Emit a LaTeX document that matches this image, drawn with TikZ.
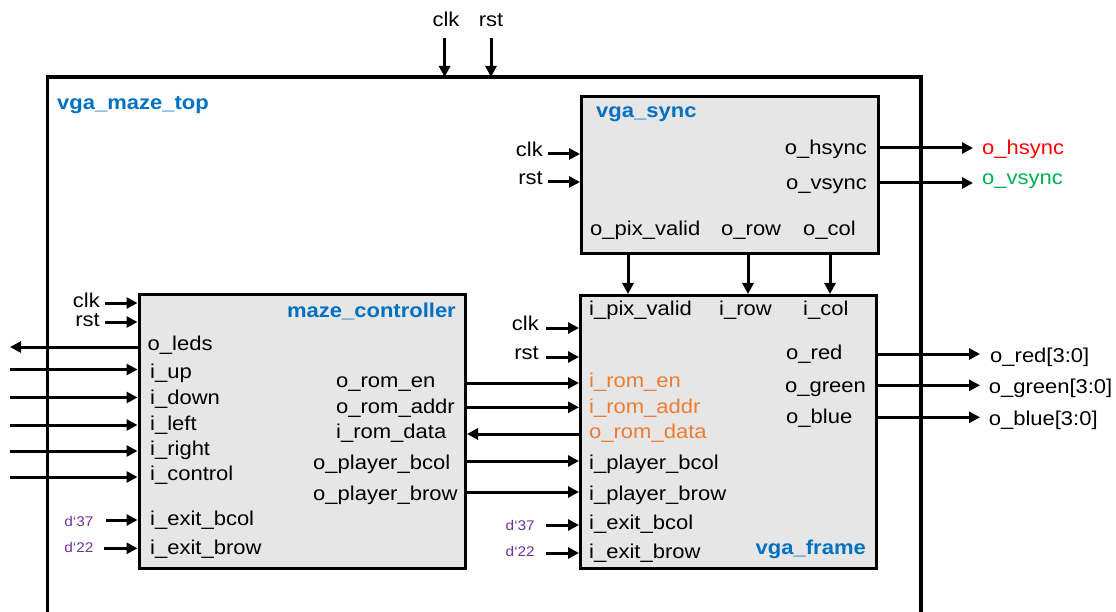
\documentclass[tikz,border=0pt]{standalone}
\usepackage{fontspec}
\setmainfont{Liberation Sans}[FakeStretch=1.1]
\usetikzlibrary{arrows.meta}
\definecolor{tblue}{HTML}{0070C0}
\definecolor{torange}{HTML}{ED7D31}
\definecolor{tred}{HTML}{FF0000}
\definecolor{tgreen}{HTML}{00B050}
\definecolor{tpurple}{HTML}{7030A0}
\definecolor{boxgray}{HTML}{E6E6E6}
\begin{document}
\begin{tikzpicture}[x=1pt,y=-1pt,
  lbl/.style={font=\fontsize{20}{24}\selectfont, inner sep=0pt, text height=14pt, text depth=0pt},
  ttl/.style={lbl, font=\fontsize{20}{24}\selectfont\bfseries, text=tblue},
  cst/.style={font=\fontsize{14}{16}\selectfont, text=tpurple, inner sep=0pt, text height=10pt, text depth=0pt},
  blk/.style={draw, line width=3pt, fill=boxgray, anchor=north west, inner sep=0pt},
  arr/.style={line width=3pt, -{Triangle[length=11pt,width=11pt]}},
  frame/.style={line width=3.2pt}]
\path[use as bounding box] (0,0) rectangle (1116,612);
\clip (0,0) rectangle (1116,612);

% outer module
\draw[frame] (47.5,640) -- (47.5,77) coordinate (tl) -- (921,77) coordinate (tr) -- (921,640);
\node[ttl, anchor=west] (topttl) at (57,103) {vga\_maze\_top};
\node[lbl] (tclk) at (446,20) {clk};
\node[lbl] (trst) at (491,20) {rst};
\coordinate (tclks) at (444.6,38);
\coordinate (trsts) at (491,38);
\draw[arr] (tclks) -- (tclks |- tl);
\draw[arr] (trsts) -- (trsts |- tl);

% blocks
\node[blk, minimum width=297pt, minimum height=157pt] (vs) at (580,95) {};
\node[blk, minimum width=296pt, minimum height=273pt] (vf) at (579,294) {};
\node[blk, minimum width=326.5pt, minimum height=274pt] (mc) at (137.5,293) {};

% ---------- vga_sync ----------
\node[ttl, anchor=west] (vsttl) at (596,111) {vga\_sync};
\node[lbl, anchor=east] (vsclk) at (543,150) {clk};
\node[lbl, anchor=east] (vsrst) at (543,178) {rst};
\coordinate (vsclks) at (548,154);
\coordinate (vsrsts) at (548,182);
\draw[arr] (vsclks) -- (vs.west |- vsclks);
\draw[arr] (vsrsts) -- (vs.west |- vsrsts);
\node[lbl, anchor=east] (ohs) at (867,148) {o\_hsync};
\node[lbl, anchor=east] (ovs) at (867,183) {o\_vsync};
\coordinate (ohse) at (973,148);
\coordinate (ovse) at (973,183);
\draw[arr] (vs.east |- ohse) -- (ohse);
\draw[arr] (vs.east |- ovse) -- (ovse);
\node[lbl, anchor=west, text=tred] (ohsout) at (982,148) {o\_hsync};
\node[lbl, anchor=west, text=tgreen] (ovsout) at (982,178) {o\_vsync};
\node[lbl, anchor=west] (opv) at (590,229) {o\_pix\_valid};
\node[lbl, anchor=west] (orow) at (721,229) {o\_row};
\node[lbl, anchor=west] (ocol) at (803,229) {o\_col};
\coordinate (pvx) at (628,0);
\coordinate (rowx) at (748,0);
\coordinate (colx) at (830,0);
\draw[arr] (pvx |- vs.south) -- (pvx |- vf.north);
\draw[arr] (rowx |- vs.south) -- (rowx |- vf.north);
\draw[arr] (colx |- vs.south) -- (colx |- vf.north);

% ---------- vga_frame ----------
\node[lbl, anchor=west] (ipv) at (589,309) {i\_pix\_valid};
\node[lbl, anchor=west] (irow) at (719,309) {i\_row};
\node[lbl, anchor=west] (icol) at (803,309) {i\_col};
\node[lbl, anchor=west] (ored) at (786,352) {o\_red};
\node[lbl, anchor=west] (ogreen) at (785,385) {o\_green};
\node[lbl, anchor=west] (oblue) at (786,416) {o\_blue};
\coordinate (orede) at (980,354);
\coordinate (ogreene) at (980,385.3);
\coordinate (obluee) at (980,417.3);
\draw[arr] (vf.east |- orede) -- (orede);
\draw[arr] (vf.east |- ogreene) -- (ogreene);
\draw[arr] (vf.east |- obluee) -- (obluee);
\node[lbl, anchor=west] (oredout) at (990,355) {o\_red[3:0]};
\node[lbl, anchor=west] (ogreenout) at (988.6,386) {o\_green[3:0]};
\node[lbl, anchor=west] (oblueout) at (988.6,418) {o\_blue[3:0]};
\node[lbl, anchor=west, text=torange] (iromen) at (589,380) {i\_rom\_en};
\node[lbl, anchor=west, text=torange] (iromaddr) at (589,406) {i\_rom\_addr};
\node[lbl, anchor=west, text=torange] (oromdata) at (589,431) {o\_rom\_data};
\node[lbl, anchor=west] (ipbcol) at (589,462) {i\_player\_bcol};
\node[lbl, anchor=west] (ipbrow) at (589,493) {i\_player\_brow};
\node[lbl, anchor=west] (iebcol) at (589,522) {i\_exit\_bcol};
\node[lbl, anchor=west] (iebrow) at (589,551) {i\_exit\_brow};
\node[ttl, anchor=east] (vfttl) at (866,547) {vga\_frame};
\node[lbl, anchor=east] (vfclk) at (539,323) {clk};
\node[lbl, anchor=east] (vfrst) at (539,352) {rst};
\coordinate (vfclks) at (546,328);
\coordinate (vfrsts) at (546,357);
\draw[arr] (vfclks) -- (vf.west |- vfclks);
\draw[arr] (vfrsts) -- (vf.west |- vfrsts);
\node[cst, anchor=east] (vf37) at (535,525) {d`37};
\node[cst, anchor=east] (vf22) at (535,551) {d`22};
\coordinate (vf37s) at (546,525);
\coordinate (vf22s) at (546,553);
\draw[arr] (vf37s) -- (vf.west |- vf37s);
\draw[arr] (vf22s) -- (vf.west |- vf22s);

% ---------- maze_controller ----------
\node[ttl, anchor=east] (mcttl) at (456,310) {maze\_controller};
\node[lbl, anchor=east] (mcclk) at (100,300) {clk};
\node[lbl, anchor=east] (mcrst) at (100,319) {rst};
\coordinate (mcclks) at (105,303);
\coordinate (mcrsts) at (105,322);
\draw[arr] (mcclks) -- (mc.west |- mcclks);
\draw[arr] (mcrsts) -- (mc.west |- mcrsts);
\node[lbl, anchor=west] (oleds) at (147.5,343) {o\_leds};
\node[lbl, anchor=west] (iup) at (150,371) {i\_up};
\node[lbl, anchor=west] (idown) at (150,397) {i\_down};
\node[lbl, anchor=west] (ileft) at (150,423) {i\_left};
\node[lbl, anchor=west] (iright) at (150,448) {i\_right};
\node[lbl, anchor=west] (icontrol) at (150,473) {i\_control};
\node[lbl, anchor=west] (mebcol) at (150,518) {i\_exit\_bcol};
\node[lbl, anchor=west] (mebrow) at (150,547) {i\_exit\_brow};
\coordinate (oledse) at (10,347);
\coordinate (iups) at (10,369.5);
\coordinate (idowns) at (10,397.5);
\coordinate (ilefts) at (10,425);
\coordinate (irights) at (10,451);
\coordinate (icontrols) at (10,477);
\draw[arr] (mc.west |- oledse) -- (oledse);
\draw[arr] (iups) -- (mc.west |- iups);
\draw[arr] (idowns) -- (mc.west |- idowns);
\draw[arr] (ilefts) -- (mc.west |- ilefts);
\draw[arr] (irights) -- (mc.west |- irights);
\draw[arr] (icontrols) -- (mc.west |- icontrols);
\node[cst, anchor=east] (mc37) at (93.6,521) {d`37};
\node[cst, anchor=east] (mc22) at (93.6,547) {d`22};
\coordinate (mc37s) at (106,520);
\coordinate (mc22s) at (104,548.3);
\draw[arr] (mc37s) -- (mc.west |- mc37s);
\draw[arr] (mc22s) -- (mc.west |- mc22s);
\node[lbl, anchor=west] (oromen) at (336,380) {o\_rom\_en};
\node[lbl, anchor=west] (oromaddr) at (336,406) {o\_rom\_addr};
\node[lbl, anchor=west] (iromdata) at (336,431) {i\_rom\_data};
\node[lbl, anchor=west] (opbcol) at (313,462) {o\_player\_bcol};
\node[lbl, anchor=west] (opbrow) at (313,493) {o\_player\_brow};

% connections between controller and frame
\coordinate (yen) at (0,383);
\coordinate (yaddr) at (0,407.3);
\coordinate (ydata) at (0,434);
\coordinate (ybcol) at (0,461);
\coordinate (ybrow) at (0,492);
\draw[arr] (mc.east |- yen) -- (vf.west |- yen);
\draw[arr] (mc.east |- yaddr) -- (vf.west |- yaddr);
\draw[arr] (vf.west |- ydata) -- (mc.east |- ydata);
\draw[arr] (mc.east |- ybcol) -- (vf.west |- ybcol);
\draw[arr] (mc.east |- ybrow) -- (vf.west |- ybrow);
\end{tikzpicture}
\end{document}
